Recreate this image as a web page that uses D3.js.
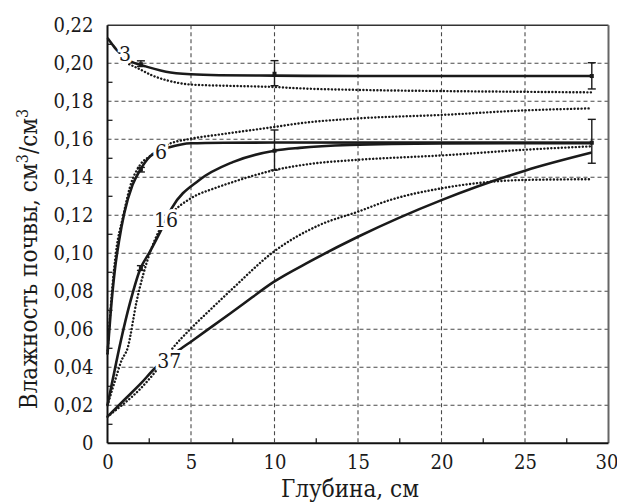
<!DOCTYPE html>
<html>
<head>
<meta charset="utf-8">
<script src="https://cdn.jsdelivr.net/npm/d3@7"></script>
<style>
  body { margin: 0; background: #fff; }
  svg text { fill: #1a1a1a; font-family: "DejaVu Serif", serif; font-stretch: condensed; }
</style>
</head>
<body>
<div id="chart"></div>
<script>
// depth (cm) vs soil moisture (cm3/cm3); solid = model, dotted = measured
const depthTicks = [0, 5, 10, 15, 20, 25, 30];
const depthMinor = [2.5, 7.5, 12.5, 17.5, 22.5, 27.5];
const moistTicks = [0, 0.02, 0.04, 0.06, 0.08, 0.1, 0.12, 0.14, 0.16, 0.18, 0.2, 0.22];
const moistMinor = [0.01, 0.03, 0.05, 0.07, 0.09, 0.11, 0.13, 0.15, 0.17, 0.19, 0.21];

const model3 = [[0, 0.2133], [0.3, 0.2098], [0.55, 0.207], [1.0, 0.2035], [1.45, 0.2008], [1.95, 0.1993],
  [3.5, 0.1956], [5, 0.1942], [6.7, 0.1937], [10, 0.1935], [15, 0.1933], [20, 0.1933], [29, 0.1933]];
const obs3 = [[1.3, 0.1995], [1.95, 0.1968], [2.7, 0.1935], [3.5, 0.1912], [5, 0.1888], [7, 0.1882],
  [10, 0.1875], [11.5, 0.1868], [15, 0.186], [20, 0.1854], [25, 0.185], [29, 0.1847]];

const model6 = [[0, 0.047], [0.2, 0.07], [0.45, 0.092], [0.7, 0.107], [1.0, 0.121], [1.5, 0.136],
  [1.95, 0.1438], [2.55, 0.151], [3.2, 0.1545], [3.65, 0.1557], [5, 0.1579], [7, 0.1582], [10, 0.1583], [29, 0.1582]];
const obs6 = [[0, 0.047], [0.25, 0.078], [0.5, 0.1], [0.95, 0.12], [1.35, 0.135], [1.95, 0.1465],
  [2.55, 0.1512], [3.54, 0.157], [5, 0.1603], [6.7, 0.1625], [10, 0.1665], [11.5, 0.1684], [15, 0.171],
  [20, 0.1728], [25, 0.1752], [29, 0.1763]];

const model16 = [[0, 0.02], [0.3, 0.033], [0.8, 0.054], [1.35, 0.074], [1.95, 0.0915], [2.55, 0.101],
  [3.14, 0.111], [3.84, 0.1237], [5.5, 0.1386], [7.5, 0.148], [10, 0.154], [11.5, 0.1555], [14.5, 0.157],
  [20, 0.1578], [29, 0.158]];
const obs16 = [[0, 0.02], [0.45, 0.033], [0.85, 0.0438], [1.2, 0.05], [1.75, 0.075], [2.55, 0.1005],
  [3.04, 0.111], [3.9, 0.1215], [5, 0.129], [6.5, 0.1345], [7.5, 0.1375], [10, 0.1438], [12.1, 0.147],
  [15, 0.1492], [20, 0.1515], [25, 0.1545], [29, 0.1563]];

const model37 = [[0, 0.014], [1, 0.0228], [2, 0.0315], [2.84, 0.0395], [4.14, 0.0482], [5.14, 0.0544],
  [6, 0.0598], [8, 0.0725], [10, 0.0852], [12.1, 0.0956], [15, 0.1087], [20, 0.128], [25, 0.1435], [29, 0.153]];
const obs37 = [[0, 0.014], [0.5, 0.0175], [1, 0.021], [2, 0.029], [2.8, 0.037], [3.8, 0.049], [5, 0.0605],
  [6, 0.069], [7.5, 0.0815], [9.9, 0.1005], [12.7, 0.1149], [15, 0.1219], [16.9, 0.128], [20, 0.1342],
  [25, 0.1386], [29, 0.139]];

// error bars: depth, centre, low, high
const errDepth = [2, 10, 29, 2, 10, 29, 2];
const errMid = [0.1995, 0.1945, 0.1933, 0.1441, 0.154, 0.1582, 0.0922];
const errLow = [0.1983, 0.1882, 0.1865, 0.1428, 0.1438, 0.1474, 0.091];
const errHigh = [0.2013, 0.2014, 0.2003, 0.1452, 0.1649, 0.1705, 0.0935];

const curveLabels = ["3", "6", "16", "37"];
const labelDepth = [1.05, 3.2, 3.5, 3.7];
const labelMoist = [0.2053, 0.1537, 0.118, 0.0435];

const margin = { top: 25.3, right: 8.5, bottom: 58.7, left: 107.5 };
const width = 617 - margin.left - margin.right;
const height = 502 - margin.top - margin.bottom;
const serif = '"DejaVu Serif", serif';

const x = d3.scaleLinear().domain([0, 30]).range([0, width]);
const y = d3.scaleLinear().domain([0, 0.22]).range([height, 0]);

const svg = d3.select("#chart").append("svg")
  .attr("width", 617)
  .attr("height", 502)
  .attr("font-family", serif);

const g = svg.append("g")
  .attr("transform", `translate(${margin.left},${margin.top})`);

// grid
g.append("g")
  .selectAll("line")
  .data(moistTicks.filter((d) => d > 0 && d < 0.22))
  .join("line")
  .attr("x1", 0).attr("x2", width)
  .attr("y1", (d) => y(d)).attr("y2", (d) => y(d))
  .attr("stroke", "#4a4a4a").attr("stroke-width", 1.1).attr("stroke-dasharray", "4,3");

g.append("g")
  .selectAll("line")
  .data(depthTicks.filter((d) => d > 0 && d < 30))
  .join("line")
  .attr("y1", 0).attr("y2", height)
  .attr("x1", (d) => x(d)).attr("x2", (d) => x(d))
  .attr("stroke", "#4a4a4a").attr("stroke-width", 1.1).attr("stroke-dasharray", "4,3");

// axes
const fmt = (d) => (d === 0 ? "0" : d3.format(".2f")(d).replace(".", ","));

g.append("g")
  .call(d3.axisLeft(y).tickValues(moistTicks).tickSize(0).tickPadding(14).tickFormat(fmt))
  .call((a) => a.attr("font-family", serif).attr("font-size", 20))
  .call((a) => a.select(".domain").remove());

g.append("g")
  .attr("transform", `translate(0,${height})`)
  .call(d3.axisBottom(x).tickValues(depthTicks).tickSize(0).tickPadding(12).tickFormat(d3.format("d")))
  .call((a) => a.attr("font-family", serif).attr("font-size", 20))
  .call((a) => a.select(".domain").remove())
  .call((a) => a.selectAll(".tick text").filter((d) => d === 30).attr("dx", -2));

// minor ticks pointing inward
g.append("g")
  .selectAll("line")
  .data(moistMinor)
  .join("line")
  .attr("x1", 0).attr("x2", 5)
  .attr("y1", (d) => y(d)).attr("y2", (d) => y(d))
  .attr("stroke", "#222").attr("stroke-width", 1.3);

g.append("g")
  .selectAll("line")
  .data(depthMinor)
  .join("line")
  .attr("y1", height).attr("y2", height - 5)
  .attr("x1", (d) => x(d)).attr("x2", (d) => x(d))
  .attr("stroke", "#222").attr("stroke-width", 1.3);

// frame
g.append("line").attr("x1", 0).attr("x2", width).attr("y1", 0).attr("y2", 0)
  .attr("stroke", "#333").attr("stroke-width", 1.5);
g.append("line").attr("x1", width).attr("x2", width).attr("y1", 0).attr("y2", height)
  .attr("stroke", "#666").attr("stroke-width", 2);
g.append("line").attr("x1", 0).attr("x2", 0).attr("y1", 0).attr("y2", height)
  .attr("stroke", "#111").attr("stroke-width", 2);
g.append("line").attr("x1", 0).attr("x2", width).attr("y1", height).attr("y2", height)
  .attr("stroke", "#111").attr("stroke-width", 2);

// curves
const line = d3.line()
  .x((d) => x(d[0]))
  .y((d) => y(d[1]))
  .curve(d3.curveMonotoneX);

const obsSeries = [obs3, obs6, obs16, obs37];
const modelSeries = [model3, model6, model16, model37];

g.append("g")
  .selectAll("path")
  .data(obsSeries)
  .join("path")
  .attr("d", line)
  .attr("fill", "none")
  .attr("stroke", "#1a1a1a")
  .attr("stroke-width", 2.4)
  .attr("stroke-linecap", "round")
  .attr("stroke-dasharray", "0.1,3.4");

g.append("g")
  .selectAll("path")
  .data(modelSeries)
  .join("path")
  .attr("d", line)
  .attr("fill", "none")
  .attr("stroke", "#1a1a1a")
  .attr("stroke-width", 2.6);

// error bars
const errG = g.append("g").attr("stroke", "#1a1a1a").attr("stroke-width", 1.4);
errDepth.forEach((d, i) => {
  const cx = x(d);
  errG.append("line").attr("x1", cx).attr("x2", cx).attr("y1", y(errLow[i])).attr("y2", y(errHigh[i]));
  errG.append("line").attr("x1", cx - 4).attr("x2", cx + 4).attr("y1", y(errLow[i])).attr("y2", y(errLow[i]));
  errG.append("line").attr("x1", cx - 4).attr("x2", cx + 4).attr("y1", y(errHigh[i])).attr("y2", y(errHigh[i]));
  errG.append("rect").attr("x", cx - 2).attr("y", y(errMid[i]) - 2).attr("width", 4).attr("height", 4)
    .attr("fill", "#1a1a1a").attr("stroke", "none");
});

// curve labels with white halo that opens a gap in the lines
g.append("g")
  .selectAll("text")
  .data(curveLabels)
  .join("text")
  .attr("x", (d, i) => x(labelDepth[i]))
  .attr("y", (d, i) => y(labelMoist[i]))
  .attr("dy", "0.36em")
  .attr("text-anchor", "middle")
  .attr("font-size", 21)
  .attr("stroke", "#fff")
  .attr("stroke-width", 6)
  .attr("paint-order", "stroke")
  .text((d) => d);

// axis titles
svg.append("text")
  .attr("x", margin.left + x(15) - 8)
  .attr("y", 497)
  .attr("text-anchor", "middle")
  .attr("font-size", 24)
  .text("Глубина, см");

const yTitle = svg.append("text")
  .attr("transform", `translate(37,${margin.top + y(0.097)}) rotate(-90)`)
  .attr("text-anchor", "middle")
  .attr("font-size", 24);
yTitle.append("tspan").text("Влажность почвы, см");
yTitle.append("tspan").attr("dy", -9).attr("font-size", 16).text("3");
yTitle.append("tspan").attr("dy", 9).text("/см");
yTitle.append("tspan").attr("dy", -9).attr("font-size", 16).text("3");
</script>
</body>
</html>
